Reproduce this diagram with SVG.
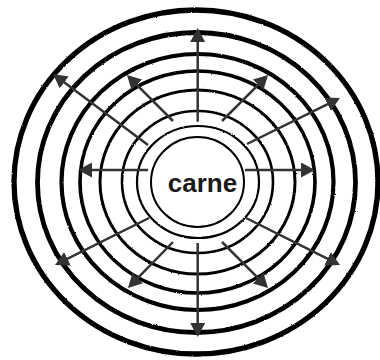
<svg xmlns="http://www.w3.org/2000/svg" width="380" height="360" viewBox="0 0 380 360">
<defs>
<style>
.ring{fill:none;stroke:#000}
.arr{stroke:#333;stroke-width:2.5;fill:none;marker-end:url(#ah)}
.lbl{font-family:"Liberation Sans",Arial,sans-serif;font-weight:bold;font-size:26px;fill:#1a1a1a;text-anchor:middle}
</style>
<marker id="ah" viewBox="0 0 14 15" refX="11" refY="7.5" markerWidth="14" markerHeight="15" markerUnits="userSpaceOnUse" orient="auto">
<path d="M0,0 L14,7.5 L0,15 z" fill="#333"/>
</marker>
<filter id="rough" x="-5%" y="-5%" width="110%" height="110%">
<feTurbulence type="fractalNoise" baseFrequency="0.9" numOctaves="2" seed="3"/>
<feDisplacementMap in="SourceGraphic" scale="1.8" xChannelSelector="R" yChannelSelector="G"/>
</filter>
</defs>
<rect width="380" height="360" fill="#fff"/>
<g id="rings" filter="url(#rough)">
<ellipse class="ring" cx="196" cy="182" rx="182" ry="172" stroke-width="5.3"/>
<ellipse class="ring" cx="196.5" cy="182.5" rx="159" ry="150" stroke-width="4.8"/>
<ellipse class="ring" cx="197.5" cy="182" rx="136" ry="128" stroke-width="4.2"/>
<ellipse class="ring" cx="197.5" cy="182" rx="117.5" ry="111" stroke-width="3.6"/>
<ellipse class="ring" cx="197.5" cy="182" rx="97.5" ry="92" stroke-width="3"/>
<ellipse class="ring" cx="197.5" cy="182" rx="75.5" ry="71" stroke-width="2.6"/>
<ellipse class="ring" cx="198" cy="182" rx="61" ry="56" stroke-width="2.2"/>
</g>
<g id="carne">
<ellipse class="ring" cx="197.5" cy="182" rx="46.5" ry="45" stroke-width="2"/>
<text class="lbl" x="202.5" y="192">carne</text>
</g>
<g id="connectors">
<line class="arr" x1="197.7" y1="121.7" x2="197.7" y2="31"/>
<line class="arr" x1="197.7" y1="243" x2="197.7" y2="334"/>
<line class="arr" x1="148" y1="170" x2="81" y2="170"/>
<line class="arr" x1="245" y1="170" x2="312" y2="170"/>
<line class="arr" x1="148" y1="145" x2="55.4" y2="75.8"/>
<line class="arr" x1="173" y1="121" x2="129.1" y2="77.1"/>
<line class="arr" x1="222" y1="121" x2="265.9" y2="77.1"/>
<line class="arr" x1="247" y1="144" x2="337.3" y2="99.3"/>
<line class="arr" x1="149" y1="218" x2="57.7" y2="263.7"/>
<line class="arr" x1="173" y1="242" x2="130.1" y2="285.9"/>
<line class="arr" x1="222" y1="242" x2="265.9" y2="285.9"/>
<line class="arr" x1="246" y1="218" x2="337.3" y2="263.7"/>
</g>
</svg>
